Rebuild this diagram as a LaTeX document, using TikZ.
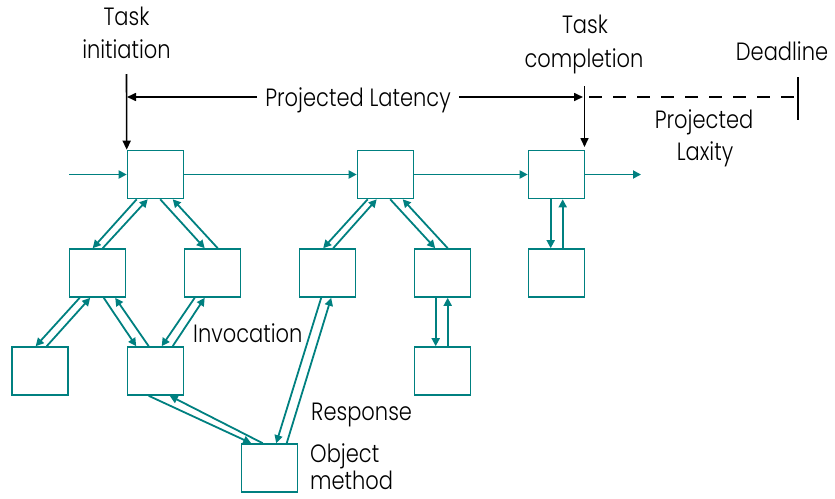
\documentclass[tikz,border=0pt]{standalone}
\usepackage{fontspec}
\setmainfont{Poppins Light}[FakeStretch=0.84]
\usetikzlibrary{arrows.meta,calc}
\definecolor{flow}{RGB}{0,128,128}
\tikzset{
  obj/.style={draw=flow, line width=1.6pt, fill=white, minimum width=56pt,
    minimum height=48pt, inner sep=0pt},
  link/.style={draw=flow, line width=1.8pt, -{Triangle[length=8pt,width=8pt]}},
  timeline/.style={draw=black, line width=1.6pt},
  timearrow/.style={timeline, -{Triangle[length=9pt,width=8pt]}},
  lbl/.style={font=\fontsize{25}{25}\selectfont, inner sep=0pt, anchor=base}
}
\begin{document}
\begin{tikzpicture}[x=1pt,y=-1pt]
\useasboundingbox (0,0) rectangle (835,498);

% object invocation boxes
\node[obj] (A) at (155.5,174.5) {};
\node[obj] (B) at (385.5,174.5) {};
\node[obj] (C) at (556.5,174.5) {};
\node[obj] (D) at (97.5,273) {};
\node[obj] (E) at (212.5,273) {};
\node[obj] (F) at (327.5,273) {};
\node[obj] (G) at (442.5,273) {};
\node[obj] (H) at (556.5,273) {};
\node[obj] (I) at (40,371) {};
\node[obj] (J) at (155.5,371) {};
\node[obj] (K) at (442.5,371) {};
\node[obj] (M) at (269.5,468) {};

% main task flow
\coordinate (flowin) at (69,174.5);
\coordinate (flowout) at (641,174.5);
\draw[link] (flowin) -- (A.west);
\draw[link] (A.east) -- (B.west);
\draw[link] (B.east) -- (C.west);
\draw[link] (C.east) -- (flowout);

% invocation / response pairs
\draw[link] ([xshift=10pt]A.south west) -- ([xshift=24pt]D.north west);
\draw[link] ([xshift=34pt]D.north west) -- ([xshift=21pt]A.south west);
\draw[link] ([xshift=33.5pt]A.south west) -- ([xshift=21pt]E.north west);
\draw[link] ([xshift=34pt]E.north west) -- ([xshift=46pt]A.south west);

\draw[link] ([xshift=11pt]D.south west) -- ([xshift=24.5pt]I.north west);
\draw[link] ([xshift=35.5pt]I.north west) -- ([xshift=21.5pt]D.south west);
\draw[link] ([xshift=35pt]D.south west) -- ([xshift=9.5pt]J.north west);
\draw[link] ([xshift=22pt]J.north west) -- ([xshift=46.5pt]D.south west);

\draw[link] ([xshift=11pt]E.south west) -- ([xshift=35pt]J.north west);
\draw[link] ([xshift=46pt]J.north west) -- ([xshift=21pt]E.south west);

\draw[link] ([xshift=22pt]J.south west) -- ([xshift=10.5pt]M.north west);
\draw[link] ([xshift=22pt]M.north west) -- ([xshift=43pt]J.south west);
\draw[link] ([xshift=22.5pt]F.south west) -- ([xshift=35.5pt]M.north west);
\draw[link] ([xshift=46pt]M.north west) -- ([xshift=32.5pt]F.south west);

\draw[link] ([xshift=11pt]B.south west) -- ([xshift=24.5pt]F.north west);
\draw[link] ([xshift=34.5pt]F.north west) -- ([xshift=20pt]B.south west);
\draw[link] ([xshift=33.5pt]B.south west) -- ([xshift=21.5pt]G.north west);
\draw[link] ([xshift=34pt]G.north west) -- ([xshift=46pt]B.south west);

\draw[link] ([xshift=22pt]G.south west) -- ([xshift=22pt]K.north west);
\draw[link] ([xshift=34pt]K.north west) -- ([xshift=34pt]G.south west);
\draw[link] ([xshift=23pt]C.south west) -- ([xshift=23pt]H.north west);
\draw[link] ([xshift=35pt]H.north west) -- ([xshift=35pt]C.south west);

% time line
\coordinate (start) at (126.5,74);
\coordinate (latl) at (127,97);
\coordinate (latr) at (583,97);
\coordinate (done) at (584.5,86);
\coordinate (donebox) at (584.5,147);
\coordinate (dl) at (798,97);
\coordinate (dltop) at (798,77);
\coordinate (dlbot) at (798,120);

\draw[timearrow] (start) -- (A.north west);
\node[lbl] (lat) at (358,106) {Projected Latency};
\draw[timearrow] ([xshift=-8pt]lat.west |- latl) -- (latl);
\draw[timearrow] ([xshift=8pt]lat.east |- latr) -- (latr);
\draw[timearrow] (done) -- (donebox);
\draw[timeline, dash pattern=on 13pt off 11pt] ([xshift=6pt]latr) -- (dl);
\draw[timeline] (dltop) -- (dlbot);

% labels
\node[lbl] (ti1) at (126.5,25) {Task};
\node[lbl] (ti2) at (126.5,58) {initiation};
\node[lbl] (tc1) at (585,33) {Task};
\node[lbl] (tc2) at (584,67) {completion};
\node[lbl] (dead) at (782,60) {Deadline};
\node[lbl] (lax1) at (704,128) {Projected};
\node[lbl] (lax2) at (705,160) {Laxity};
\node[lbl, anchor=base west] (inv) at (193,342) {Invocation};
\node[lbl, anchor=base west] (resp) at (311,420.5) {Response};
\node[lbl, anchor=base west] (om1) at (310,462) {Object};
\node[lbl, anchor=base west] (om2) at (310,489) {method};
\end{tikzpicture}
\end{document}
